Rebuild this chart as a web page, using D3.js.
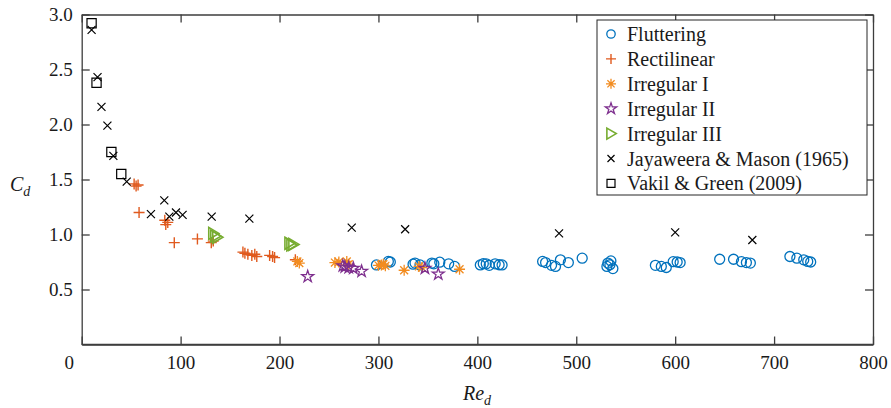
<!DOCTYPE html>
<html>
<head>
<meta charset="utf-8">
<script src="https://cdn.jsdelivr.net/npm/d3@7"></script>
<style>
  body { margin: 0; background: #fff; }
  text { fill: #1a1a1a; }
</style>
</head>
<body>
<script>
// Drag coefficient vs particle Reynolds number
var fluttering = [[298,0.723],[310,0.755],[312,0.75],[335,0.73],[337,0.74],[342,0.723],[354,0.74],[356,0.733],
  [362,0.748],[371,0.733],[377,0.71],[403,0.723],[406,0.735],[409,0.733],[412,0.72],[418,0.733],[422,0.725],
  [425,0.723],[466,0.755],[469,0.745],[475,0.72],[479,0.71],[484,0.77],[492,0.745],[506,0.785],[531,0.71],
  [532,0.74],[535,0.76],[537,0.69],[534,0.725],[580,0.72],[586,0.71],[591,0.70],[598,0.753],[602,0.75],
  [605,0.745],[645,0.775],[659,0.775],[667,0.753],[672,0.745],[676,0.74],[716,0.80],[723,0.785],[730,0.77],
  [734,0.755],[737,0.75]];
var rectilinear = [[53,1.46],[55,1.44],[57,1.45],[58,1.20],[84,1.13],[85,1.09],[87,1.11],[93.6,0.926],
  [117,0.96],[131,0.926],[133,0.94],[163,0.84],[165,0.83],[168,0.82],[172,0.81],[175,0.82],[177,0.80],
  [190,0.81],[193,0.80],[195,0.79],[216,0.77]];
var irregular1 = [[218,0.755],[220,0.74],[256,0.745],[260,0.75],[268,0.755],[270,0.73],[300,0.72],
  [303,0.723],[305,0.73],[307,0.715],[326,0.675],[341,0.71],[344,0.70],[382,0.684]];
var irregular2 = [[228.5,0.617],[264,0.715],[266,0.705],[270,0.70],[274.6,0.693],[283,0.665],[347,0.693],[360.5,0.64]];
var irregular3 = [[133,1.01],[135,0.985],[137,0.975],[210,0.92],[212,0.905],[214,0.91]];
var jayaweera = [[10,2.86],[16,2.43],[20,2.16],[26,1.99],[32,1.715],[45.5,1.48],[70,1.185],[83.5,1.31],
  [88.6,1.163],[95.3,1.20],[102,1.178],[131.4,1.163],[169.5,1.145],[273,1.063],[327,1.048],[482.6,1.01],
  [600,1.02],[678,0.95]];
var vakil = [[10,2.92],[15,2.38],[30,1.75],[40,1.55]];

var xTicks = [0, 100, 200, 300, 400, 500, 600, 700, 800];
var yTicks = [0.5, 1.0, 1.5, 2.0, 2.5, 3.0];
var legendLabels = ["Fluttering", "Rectilinear", "Irregular I", "Irregular II", "Irregular III",
  "Jayaweera & Mason (1965)", "Vakil & Green (2009)"];

var width = 891, height = 408;
var margins = {top: 14.5, right: 18, bottom: 63.5, left: 81.7};
var serif = 'Tinos, "Liberation Serif", LiberationSerif, "Nimbus Roman", "Nimbus Roman No9 L", FreeSerif, "Noto Serif", "DejaVu Serif", Georgia, serif';

var svg = d3.select("body").append("svg")
  .attr("width", width)
  .attr("height", height);

var x_Scale = d3.scaleLinear().domain([0, 800]).range([margins.left, width - margins.right]);
var y_Scale = d3.scaleLinear().domain([0, 3]).range([height - margins.bottom, margins.top]);

// marker shapes, drawn as plain paths (outlines only, like matlab)
function plusPath(r) {
  return "M" + (-r) + ",0H" + r + "M0," + (-r) + "V" + r;
}
function timesPath(r) {
  return "M" + (-r) + "," + (-r) + "L" + r + "," + r + "M" + (-r) + "," + r + "L" + r + "," + (-r);
}
function asteriskPath(r) {
  var q = r * 0.72;
  return plusPath(r) + timesPath(q);
}
function trianglePath(r) {
  return "M" + (-r * 0.75) + "," + (-r) + "L" + (r * 0.95) + ",0L" + (-r * 0.75) + "," + r + "Z";
}
function squarePath(r) {
  return "M" + (-r) + "," + (-r) + "H" + r + "V" + r + "H" + (-r) + "Z";
}
function circlePath(r) {
  return "M" + r + ",0A" + r + "," + r + " 0 1,1 " + (-r) + ",0A" + r + "," + r + " 0 1,1 " + r + ",0";
}
function starPath(r) {
  return d3.symbol(d3.symbolStar).size(r * r * 1.6)();
}

var series = [
  {data: fluttering, color: "#0072BD", shape: circlePath, r: 5, lr: 4.2, w: 1.3},
  {data: rectilinear, color: "#E05A1E", shape: plusPath, r: 5.5, lr: 5, w: 1.4},
  {data: irregular1, color: "#F28C20", shape: asteriskPath, r: 5.5, lr: 5, w: 1.3},
  {data: irregular2, color: "#7E2F8E", shape: starPath, r: 5.2, lr: 5, w: 1.3},
  {data: irregular3, color: "#77AC30", shape: trianglePath, r: 6, lr: 5.5, w: 1.6},
  {data: jayaweera, color: "#000000", shape: timesPath, r: 4, lr: 3.5, w: 1.2},
  {data: vakil, color: "#000000", shape: squarePath, r: 4.6, lr: 4, w: 1.2}
];

// Axes: ticks point inward on all four sides
function styleAxis(g) {
  g.selectAll("path, line").attr("stroke", "#3d3d3d").attr("stroke-width", 1.3);
  g.selectAll("text").style("font-size", "19px").style("font-family", serif).attr("fill", "#1a1a1a");
}

var x_Axis = svg.append("g")
  .attr("transform", `translate(0, ${height - margins.bottom})`)
  .call(d3.axisBottom(x_Scale).tickValues(xTicks).tickSizeInner(-8).tickSizeOuter(0).tickPadding(11).tickFormat(d3.format("d")))
  .call(styleAxis);
// the "0" label sits left of its tick in the original
x_Axis.selectAll(".tick text").filter(function(d) { return d === 0; }).attr("dx", -13);

svg.append("g")
  .attr("transform", `translate(0, ${margins.top})`)
  .call(d3.axisTop(x_Scale).tickValues(xTicks).tickSizeInner(-8).tickSizeOuter(0).tickFormat(""))
  .call(styleAxis);

svg.append("g")
  .attr("transform", `translate(${margins.left}, 0)`)
  .call(d3.axisLeft(y_Scale).tickValues(yTicks).tickSizeInner(-8).tickSizeOuter(0).tickPadding(9).tickFormat(d3.format(".1f")))
  .call(styleAxis);

svg.append("g")
  .attr("transform", `translate(${width - margins.right}, 0)`)
  .call(d3.axisRight(y_Scale).tickValues(yTicks).tickSizeInner(-8).tickSizeOuter(0).tickFormat(""))
  .call(styleAxis);

// bottom axis spans full range from 0
svg.append("line")
  .attr("x1", x_Scale(0)).attr("x2", x_Scale(800))
  .attr("y1", y_Scale(0)).attr("y2", y_Scale(0))
  .attr("stroke", "#3d3d3d").attr("stroke-width", 1.3);

// Axis labels
svg.append("text")
  .attr("x", 477)
  .attr("y", 400)
  .attr("text-anchor", "middle")
  .style("font-family", serif)
  .style("font-size", "20px")
  .style("font-style", "italic")
  .html('Re<tspan dy="5" style="font-size:14px">d</tspan>');

svg.append("text")
  .attr("x", 10)
  .attr("y", 191)
  .style("font-family", serif)
  .style("font-size", "20px")
  .style("font-style", "italic")
  .html('C<tspan dy="5" style="font-size:14px">d</tspan>');

// Data markers
series.forEach(function(s) {
  svg.append("g")
    .selectAll("path")
    .data(s.data)
    .enter()
    .append("path")
    .attr("transform", function(d) { return `translate(${x_Scale(d[0])}, ${y_Scale(d[1])})`; })
    .attr("d", s.shape(s.r))
    .attr("fill", "none")
    .attr("stroke", s.color)
    .attr("stroke-width", s.w);
});

// Legend box
var legend = svg.append("g").attr("transform", "translate(597, 20)");
legend.append("rect")
  .attr("width", 270)
  .attr("height", 175)
  .attr("fill", "#fff")
  .attr("stroke", "#262626")
  .attr("stroke-width", 1);

legendLabels.forEach(function(label, i) {
  var s = series[i];
  var yy = 14 + i * 24.9;
  legend.append("path")
    .attr("transform", `translate(14, ${yy})`)
    .attr("d", s.shape(s.lr))
    .attr("fill", "none")
    .attr("stroke", s.color)
    .attr("stroke-width", s.w);
  legend.append("text")
    .attr("x", 30)
    .attr("y", yy)
    .attr("dy", "0.35em")
    .style("font-family", serif)
    .style("font-size", "20px")
    .text(label);
});
</script>
</body>
</html>
